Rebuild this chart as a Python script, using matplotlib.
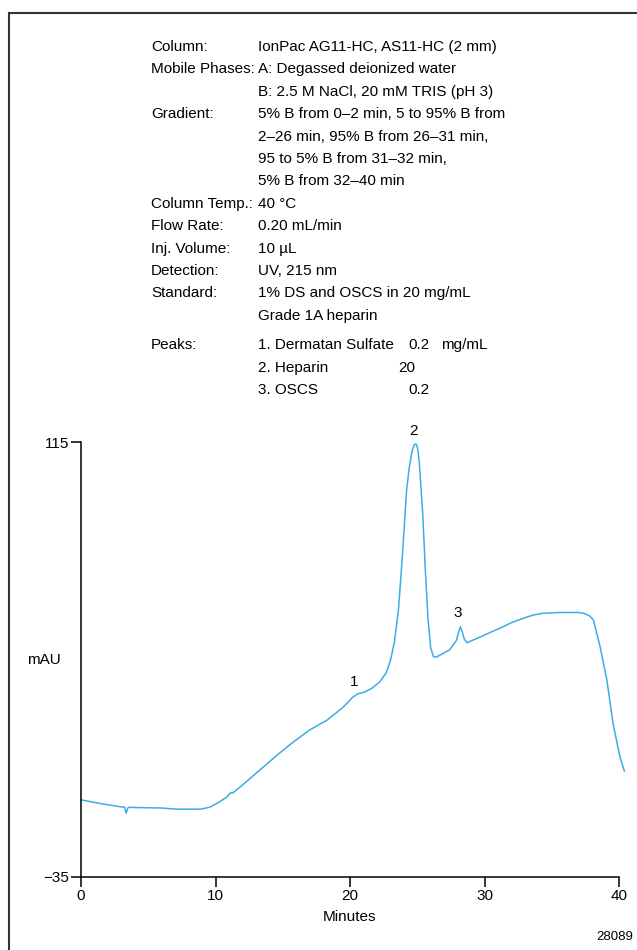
import matplotlib
matplotlib.use("Agg")
import matplotlib.pyplot as plt
from matplotlib.lines import Line2D

plt.rcParams['font.family'] = ['Liberation Sans', 'DejaVu Sans']

# chromatogram trace (minutes, mAU)
time = [0, 1.6, 3.1, 3.25, 3.35, 3.5, 5.9, 7.1, 8.9, 9.6, 10.3, 10.85, 11.1, 11.3,
        12.0, 13.3, 14.6, 15.8, 17.0, 18.3, 19.5, 20.2, 20.6, 21.0, 21.6, 22.2,
        22.7, 23.0, 23.3, 23.6, 23.9, 24.2, 24.4, 24.6, 24.75, 24.85, 24.95, 25.05,
        25.15, 25.25, 25.4, 25.6, 25.8, 26.0, 26.2, 26.4, 26.8, 27.4, 27.9, 28.05,
        28.2, 28.35, 28.5, 28.7, 29.7, 30.5, 31.2, 32.1, 33.0, 33.6, 34.3, 35.5,
        37.0, 37.4, 37.8, 38.1, 38.6, 39.1, 39.55, 40.07, 40.4]
signal = [-8.4, -9.8, -10.9, -10.9, -13.0, -11.0, -11.2, -11.6, -11.6, -10.9, -9.1,
          -7.4, -6.0, -6.0, -3.3, 1.9, 7.1, 11.6, 15.7, 19.1, 23.6, 27.0, 28.2, 28.6,
          30.0, 32.2, 35.5, 39.5, 46, 57, 76, 98, 106, 111.5, 113.8, 114.3, 114.1,
          112.2, 108, 101, 91, 71, 54, 44, 41, 40.8, 41.8, 43.3, 46.5, 49, 51.3, 49.5,
          47, 45.8, 47.8, 49.5, 50.9, 52.9, 54.4, 55.3, 55.9, 56.2, 56.2, 55.9, 55.1,
          53.6, 44.3, 32.9, 18.1, 6.4, 1.5]

peak_labels = ['1', '2', '3']
peak_pos = [(20.3, 30.0), (24.7, 116.5), (28.0, 53.5)]

x_ticks = [0, 10, 20, 30, 40]
y_ticks = [-35, 115]
y_tick_labels = ['\u221235', '115']

cond_names = ['Column:', 'Mobile Phases:', '', 'Gradient:', '', '', '',
              'Column Temp.:', 'Flow Rate:', 'Inj. Volume:', 'Detection:',
              'Standard:', '']
cond_values = ['IonPac AG11-HC, AS11-HC (2 mm)',
               'A: Degassed deionized water',
               'B: 2.5 M NaCl, 20 mM TRIS (pH 3)',
               '5% B from 0\u20132 min, 5 to 95% B from',
               '2\u201326 min, 95% B from 26\u201331 min,',
               '95 to 5% B from 31\u201332 min,',
               '5% B from 32\u201340 min',
               '40 \u00b0C',
               '0.20 mL/min',
               '10 \u00b5L',
               'UV, 215 nm',
               '1% DS and OSCS in 20 mg/mL',
               'Grade 1A heparin']
peak_names = ['1. Dermatan Sulfate', '2. Heparin', '3. OSCS']
peak_conc = ['0.2', '20', '0.2']

W, H = 637, 950
fig = plt.figure(figsize=(W / 100, H / 100), dpi=100)

def fx(px):
    return px / W

def fy(py):
    return 1 - py / H

# page frame (left and top edges)
fig.add_artist(Line2D([fx(9), fx(9)], [fy(13), 0], color='#333333', lw=1.5))
fig.add_artist(Line2D([fx(9), 1], [fy(13), fy(13)], color='#333333', lw=1.5))

# conditions block
fs = 11
y0, dy = 47, 22.4
for i, (n, v) in enumerate(zip(cond_names, cond_values)):
    y = fy(y0 + i * dy)
    fig.text(fx(151), y, n, fontsize=fs, va='center', ha='left')
    fig.text(fx(258), y, v, fontsize=fs, va='center', ha='left')

py0 = y0 + 13 * dy + 7
fig.text(fx(151), fy(py0), 'Peaks:', fontsize=fs, va='center', ha='left')
conc_x = [408, 398, 408]
for i, (n, c) in enumerate(zip(peak_names, peak_conc)):
    y = fy(py0 + i * dy)
    fig.text(fx(258), y, n, fontsize=fs, va='center', ha='left')
    fig.text(fx(conc_x[i]), y, c, fontsize=fs, va='center', ha='left')
fig.text(fx(441), fy(py0), 'mg/mL', fontsize=fs, va='center', ha='left')

# chromatogram axes
xmax = 40.5
ax_left, ax_right = 81, 81 + xmax * 13.45
ax = fig.add_axes([fx(ax_left), fy(877), (ax_right - ax_left) / W, (877 - 442) / H])
ax.plot(time, signal, color='#3AADE4', lw=1.1, clip_on=False)
ax.set_xlim(0, xmax)
ax.set_ylim(-35, 115)

for s in ['top', 'right']:
    ax.spines[s].set_visible(False)
ax.spines['bottom'].set_bounds(0, 40)
for s in ['left', 'bottom']:
    ax.spines[s].set_linewidth(1.1)

ax.set_xticks(x_ticks)
ax.set_yticks(y_ticks)
ax.set_yticklabels(y_tick_labels)
ax.tick_params(direction='out', length=7, width=1.1, labelsize=11, pad=1.5)

for lab, (x, y) in zip(peak_labels, peak_pos):
    ax.text(x, y, lab, fontsize=11, ha='center', va='bottom')

ax.text(-0.068, 0.5, 'mAU', transform=ax.transAxes, fontsize=11,
        ha='center', va='center')
fig.text(fx(349), fy(917), 'Minutes', fontsize=11, ha='center', va='center')
fig.text(fx(633), fy(937), '28089', fontsize=9.5, ha='right', va='center')

fig.savefig('out.png', dpi=100)
